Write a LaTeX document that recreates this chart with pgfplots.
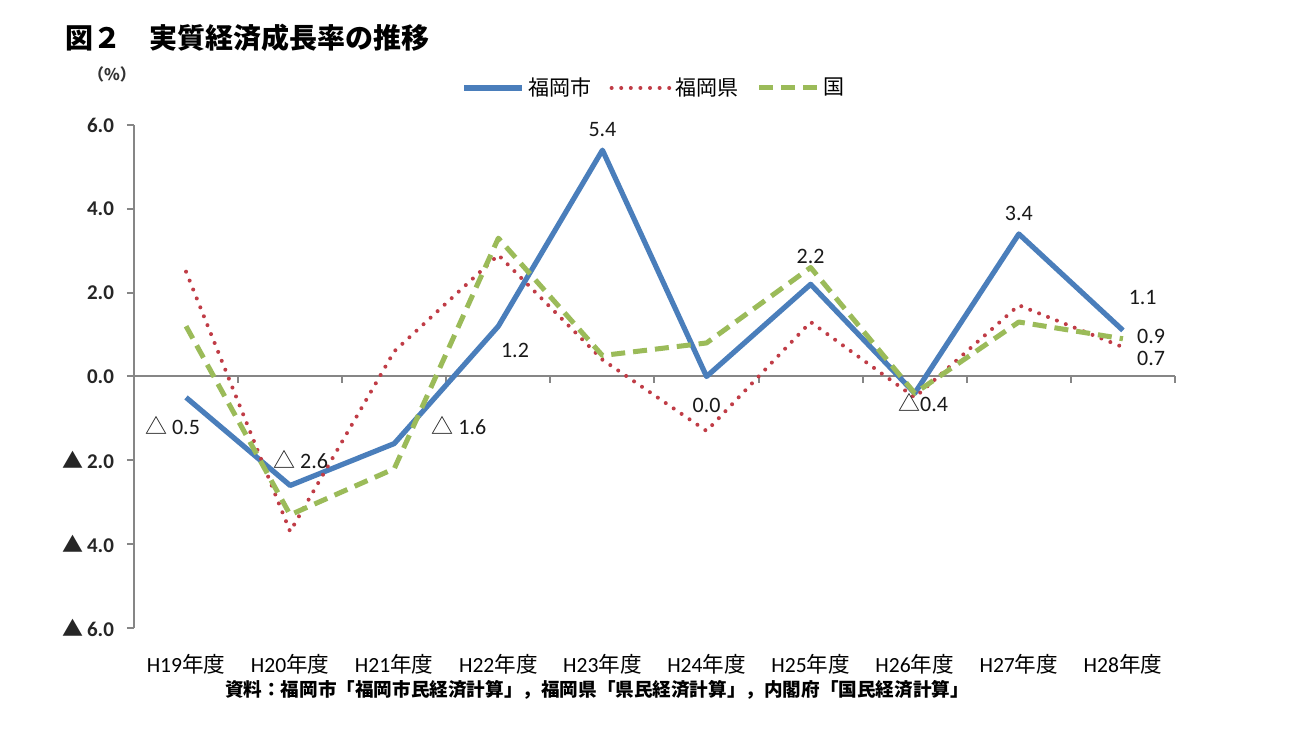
\documentclass[border=0pt]{standalone}
\usepackage{fontspec}
\setmainfont{Carlito}
\newfontfamily\jp{Noto Sans CJK JP}
\usepackage{pgfplots}
\pgfplotsset{compat=1.18}
\definecolor{cityblue}{RGB}{74,126,187}
\definecolor{prefred}{RGB}{192,60,70}
\definecolor{natgreen}{RGB}{155,187,89}
\definecolor{axgray}{RGB}{134,134,134}
\pgfplotstableread{
x city pref nat
0 -0.5 2.5 1.2
1 -2.6 -3.7 -3.3
2 -1.6 0.6 -2.2
3 1.2 2.9 3.3
4 5.4 0.4 0.5
5 0.0 -1.3 0.8
6 2.2 1.3 2.6
7 -0.4 -0.5 -0.4
8 3.4 1.7 1.3
9 1.1 0.7 0.9
}\growth
\begin{document}
\begin{tikzpicture}
\path[use as bounding box] (0,0) rectangle (649pt,371pt);
\fill[white] (0,0) rectangle (649pt,371pt);
\node[anchor=west, inner sep=0pt, font=\jp\bfseries\fontsize{14}{16}\selectfont] at (32.5pt,352pt) {図２　実質経済成長率の推移};
\node[inner sep=0pt, font=\jp\bfseries\fontsize{8}{9}\selectfont, text=black!80] at (56pt,334pt) {（\%）};
\node[inner sep=0pt, font=\jp\bfseries\fontsize{9.3}{10}\selectfont] at (298.5pt,26pt) {資料：福岡市「福岡市民経済計算」，福岡県「県民経済計算」，内閣府「国民経済計算」};
\begin{axis}[
  at={(67pt,57pt)}, anchor=south west, scale only axis,
  width=520.5pt, height=251.5pt,
  xmin=-0.5, xmax=9.5, ymin=-6, ymax=6,
  axis x line*=bottom, axis y line*=left,
  x axis line style={draw=none},
  y axis line style={axgray, line width=1pt},
  xtick={0,...,9},
  xticklabels={H19{\jp 年度},H20{\jp 年度},H21{\jp 年度},H22{\jp 年度},H23{\jp 年度},H24{\jp 年度},H25{\jp 年度},H26{\jp 年度},H27{\jp 年度},H28{\jp 年度}},
  major x tick style={draw=none},
  xticklabel style={font=\fontsize{10.8}{12}\selectfont, yshift=-6pt},
  ytick={-6,-4,-2,0,2,4,6},
  yticklabels={{\jp ▲}\,6.0,{\jp ▲}\,4.0,{\jp ▲}\,2.0,0.0,2.0,4.0,6.0},
  yticklabel style={font=\bfseries\fontsize{10.5}{12}\selectfont, text=black!85, xshift=-3pt},
  tick align=outside, major tick length=3.5pt,
  major y tick style={axgray, line width=1pt},
  /pgf/number format/assume math mode=true,
  legend columns=-1,
  legend style={draw=none, fill=none, at={(0.5005,1.0736)}, anchor=center,
    font=\jp\fontsize{10.5}{12}\selectfont,
    /tikz/every even column/.append style={column sep=7pt},
    inner sep=0pt},
  legend image code/.code={\draw[#1] (0pt,0pt) -- (29pt,0pt);},
  clip=false,
]
\draw[axgray, line width=1pt] (axis cs:-0.5,0) -- (axis cs:9.5,0);
\draw[axgray, line width=1pt] (axis cs:0.5,0) -- ([yshift=-3.5pt]axis cs:0.5,0);
\draw[axgray, line width=1pt] (axis cs:1.5,0) -- ([yshift=-3.5pt]axis cs:1.5,0);
\draw[axgray, line width=1pt] (axis cs:2.5,0) -- ([yshift=-3.5pt]axis cs:2.5,0);
\draw[axgray, line width=1pt] (axis cs:3.5,0) -- ([yshift=-3.5pt]axis cs:3.5,0);
\draw[axgray, line width=1pt] (axis cs:4.5,0) -- ([yshift=-3.5pt]axis cs:4.5,0);
\draw[axgray, line width=1pt] (axis cs:5.5,0) -- ([yshift=-3.5pt]axis cs:5.5,0);
\draw[axgray, line width=1pt] (axis cs:6.5,0) -- ([yshift=-3.5pt]axis cs:6.5,0);
\draw[axgray, line width=1pt] (axis cs:7.5,0) -- ([yshift=-3.5pt]axis cs:7.5,0);
\draw[axgray, line width=1pt] (axis cs:8.5,0) -- ([yshift=-3.5pt]axis cs:8.5,0);
\draw[axgray, line width=1pt] (axis cs:9.5,0) -- ([yshift=-3.5pt]axis cs:9.5,0);
\addplot[cityblue, line width=2.6pt, line join=round] table[x=x,y=city]{\growth};
\addlegendentry{福岡市}
\addplot[prefred, line width=2pt, line cap=round, dash pattern=on 0pt off 4.8pt, line join=round] table[x=x,y=pref]{\growth};
\addlegendentry{福岡県}
\addplot[natgreen, line width=2.5pt, dash pattern=on 7pt off 4pt, line join=round] table[x=x,y=nat]{\growth};
\addlegendentry{国}
\begin{scope}[every node/.style={font=\fontsize{11}{12}\selectfont, inner sep=0pt, text=black!90}]
\node at (axis cs:-0.13,-1.17) {{\jp △} 0.5};
\node at (axis cs:1.10,-1.98) {{\jp △} 2.6};
\node at (axis cs:2.62,-1.17) {{\jp △} 1.6};
\node at (axis cs:3.16,0.62) {1.2};
\node at (axis cs:4.0,5.9) {5.4};
\node at (axis cs:5.0,-0.69) {0.0};
\node at (axis cs:6.0,2.86) {2.2};
\node at (axis cs:7.08,-0.62) {{\jp △}0.4};
\node at (axis cs:8.0,3.89) {3.4};
\node at (axis cs:9.19,1.89) {1.1};
\node at (axis cs:9.27,0.95) {0.9};
\node at (axis cs:9.27,0.43) {0.7};
\end{scope}
\end{axis}
\end{tikzpicture}
\end{document}
